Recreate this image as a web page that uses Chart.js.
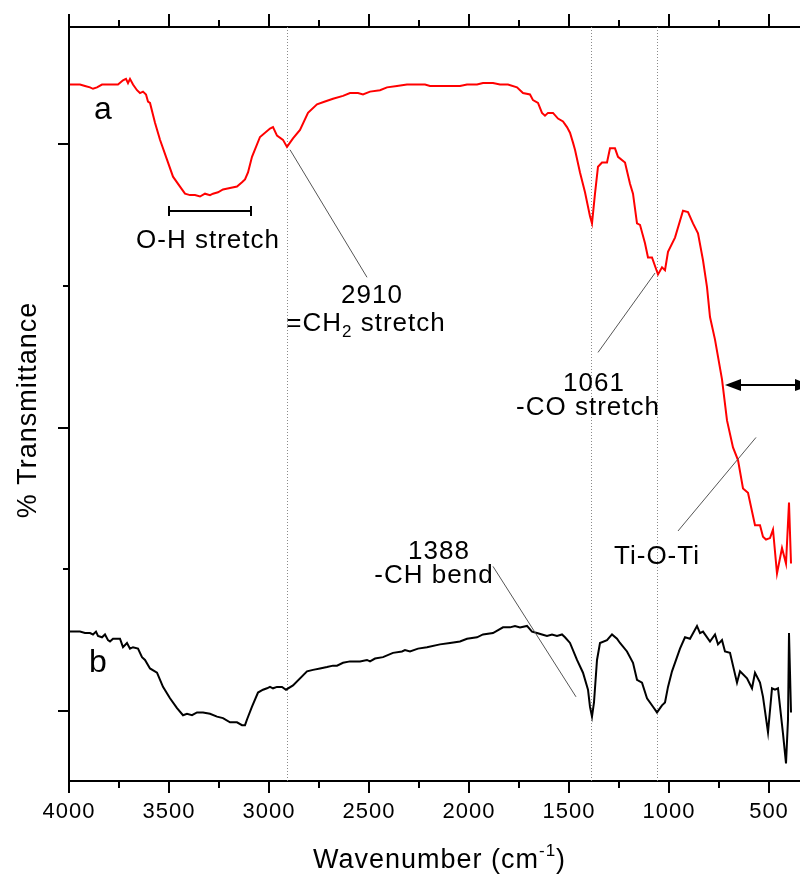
<!DOCTYPE html>
<html>
<head>
<meta charset="utf-8">
<title>FTIR spectra</title>
<script src="https://cdn.jsdelivr.net/npm/chart.js@4/dist/chart.umd.min.js"></script>
<style>
  html, body { margin: 0; padding: 0; background: #fff; }
  #wrap { position: relative; width: 800px; height: 876px; }
</style>
</head>
<body>
<div id="wrap"><canvas id="ftir"></canvas></div>
<script>
// spectrum a (red), wavenumber in cm-1
const waveA = [
  3995,3970,3945,3920,3895,3880,3860,3835,3795,3780,
  3755,3730,3715,3705,3695,3680,3660,3645,3630,3615,
  3605,3595,3570,3545,3510,3480,3445,3420,3395,3370,
  3345,3320,3295,3280,3255,3230,3195,3160,3135,3120,
  3105,3085,3045,2995,2980,2960,2930,2910,2880,2845,
  2805,2760,2720,2680,2630,2595,2555,2530,2495,2445,
  2410,2360,2310,2280,2255,2220,2195,2145,2095,2045,
  2010,1960,1930,1880,1845,1805,1760,1730,1695,1680,
  1655,1635,1620,1605,1580,1555,1530,1510,1495,1480,
  1470,1445,1420,1395,1385,1370,1355,1335,1310,1295,
  1270,1255,1220,1195,1180,1160,1145,1120,1105,1085,
  1055,1035,1020,1005,970,930,905,880,855,830,
  810,795,770,735,710,680,655,630,605,570,
  545,530,515,495,480,460,435,415,400,390];
const transA = [
  4.42,4.42,4.42,4.41,4.40,4.39,4.40,4.42,4.42,4.42,
  4.42,4.45,4.46,4.43,4.46,4.42,4.38,4.36,4.37,4.35,
  4.30,4.29,4.15,4.03,3.89,3.77,3.70,3.65,3.64,3.64,
  3.63,3.65,3.64,3.65,3.66,3.68,3.69,3.70,3.73,3.75,
  3.80,3.91,4.05,4.11,4.12,4.06,4.03,3.98,4.04,4.10,
  4.22,4.28,4.30,4.32,4.34,4.36,4.36,4.35,4.37,4.38,
  4.40,4.41,4.42,4.42,4.42,4.42,4.41,4.41,4.41,4.41,
  4.42,4.42,4.43,4.43,4.42,4.42,4.40,4.36,4.35,4.31,
  4.29,4.22,4.20,4.22,4.22,4.18,4.16,4.12,4.08,4.01,
  3.96,3.80,3.66,3.49,3.44,3.65,3.84,3.87,3.87,3.97,
  3.97,3.91,3.87,3.72,3.65,3.44,3.43,3.30,3.20,3.20,
  3.08,3.13,3.11,3.24,3.34,3.53,3.52,3.44,3.37,3.18,
  2.99,2.78,2.62,2.34,2.05,1.86,1.77,1.57,1.54,1.31,
  1.31,1.23,1.21,1.22,1.28,0.97,1.15,1.04,1.47,1.04];

// spectrum b (black)
const waveB = [
  3995,3970,3945,3920,3895,3880,3865,3855,3835,3820,
  3805,3795,3780,3760,3745,3735,3730,3710,3695,3680,
  3655,3635,3620,3595,3560,3530,3495,3460,3430,3410,
  3385,3360,3345,3330,3295,3260,3230,3195,3160,3135,
  3120,3110,3085,3055,3030,3010,2995,2980,2960,2935,
  2915,2880,2810,2780,2745,2710,2680,2660,2630,2595,
  2545,2510,2495,2470,2430,2380,2335,2320,2295,2255,
  2210,2145,2095,2045,2010,1960,1930,1880,1830,1795,
  1770,1745,1710,1685,1660,1635,1610,1585,1560,1535,
  1520,1495,1460,1430,1405,1395,1385,1375,1360,1345,
  1310,1285,1260,1245,1210,1180,1160,1135,1110,1080,
  1060,1035,1020,1005,985,945,920,895,860,845,
  830,795,770,755,735,720,695,660,645,610,
  585,570,545,530,505,485,470,455,430,415,
  405,400,390];
const transB = [
  0.56,0.56,0.56,0.55,0.55,0.54,0.56,0.53,0.52,0.54,
  0.50,0.49,0.51,0.51,0.51,0.47,0.45,0.48,0.44,0.45,
  0.44,0.38,0.36,0.30,0.27,0.17,0.09,0.02,-0.03,-0.02,
  -0.03,-0.01,-0.01,-0.01,-0.02,-0.04,-0.05,-0.08,-0.08,-0.10,
  -0.10,-0.06,0.03,0.13,0.15,0.16,0.17,0.16,0.17,0.17,
  0.15,0.18,0.28,0.29,0.30,0.31,0.32,0.32,0.34,0.35,
  0.35,0.36,0.35,0.37,0.38,0.41,0.42,0.43,0.42,0.44,
  0.45,0.47,0.48,0.49,0.51,0.52,0.54,0.55,0.59,0.59,
  0.60,0.59,0.60,0.56,0.55,0.54,0.53,0.54,0.53,0.54,
  0.52,0.48,0.36,0.27,0.15,0.03,-0.04,0.06,0.36,0.48,
  0.50,0.54,0.51,0.48,0.42,0.34,0.22,0.20,0.09,0.03,
  -0.01,0.04,0.06,0.17,0.28,0.44,0.52,0.51,0.60,0.55,
  0.56,0.49,0.54,0.47,0.50,0.42,0.41,0.20,0.28,0.23,
  0.16,0.27,0.20,0.10,-0.15,0.16,0.15,0.16,-0.16,-0.37,
  -0.06,0.55,-0.01];

const xTicks = [4000, 3500, 3000, 2500, 2000, 1500, 1000, 500];
const xMinorTicks = [3750, 3250, 2750, 2250, 1750, 1250, 750];
const yTicks = [0, 2, 4];
const yMinorTicks = [1, 3];
const markerWaves = [2910, 1388, 1061];

const FONT = "'Liberation Sans', Arial, sans-serif";

function toPoints(xs, ys) {
  return xs.map((v, i) => ({ x: v, y: ys[i] }));
}

function label(ctx, str, cx, by, size) {
  ctx.font = size + 'px ' + FONT;
  ctx.textAlign = 'center';
  ctx.textBaseline = 'alphabetic';
  ctx.fillText(str, cx, by);
}

// text made of pieces [text, size, dy] (for sub/superscripts)
function richLabel(ctx, pieces, cx, by) {
  let total = 0;
  const widths = pieces.map(([t, s]) => {
    ctx.font = s + 'px ' + FONT;
    const w = ctx.measureText(t).width;
    total += w;
    return w;
  });
  let xx = cx - total / 2;
  ctx.textAlign = 'left';
  ctx.textBaseline = 'alphabetic';
  pieces.forEach(([t, s, dy], i) => {
    ctx.font = s + 'px ' + FONT;
    ctx.fillText(t, xx, by + dy);
    xx += widths[i];
  });
}

function seg(ctx, x1, y1, x2, y2) {
  ctx.beginPath();
  ctx.moveTo(x1, y1);
  ctx.lineTo(x2, y2);
  ctx.stroke();
}

const decor = {
  id: 'decor',
  beforeDraw(chart) {
    // slightly wider lettering, like the original export
    chart.ctx.letterSpacing = '1px';
  },
  beforeDatasetsDraw(chart) {
    const { ctx, chartArea: a, scales: { x } } = chart;
    ctx.save();
    ctx.strokeStyle = '#8a8a8a';
    ctx.lineWidth = 1;
    ctx.setLineDash([1, 2]);
    markerWaves.forEach(w => {
      const px = Math.round(x.getPixelForValue(w)) + 0.5;
      seg(ctx, px, a.top, px, a.bottom);
    });
    ctx.restore();
  },
  afterDraw(chart) {
    const { ctx, chartArea: a, scales: { x, y } } = chart;
    const X = v => x.getPixelForValue(v);
    const Y = v => y.getPixelForValue(v);
    ctx.save();

    // minor ticks
    ctx.strokeStyle = '#000';
    ctx.lineWidth = 2;
    xMinorTicks.forEach(v => {
      const px = Math.round(X(v));
      seg(ctx, px, a.bottom, px, a.bottom + 7);
      seg(ctx, px, a.top, px, a.top - 7);
    });
    yMinorTicks.forEach(v => {
      const py = Math.round(Y(v));
      seg(ctx, a.left, py, a.left - 6, py);
    });

    // leader lines
    ctx.strokeStyle = '#555';
    ctx.lineWidth = 1;
    seg(ctx, X(2895), Y(3.96), X(2510), Y(3.06));
    seg(ctx, X(1355), Y(2.53), X(1070), Y(3.09));
    seg(ctx, X(1880), Y(1.02), X(1465), Y(0.10));
    seg(ctx, X(955), Y(1.27), X(565), Y(1.93));

    // O-H range bar
    ctx.strokeStyle = '#000';
    ctx.lineWidth = 2;
    const by = Math.round(Y(3.53));
    seg(ctx, X(3500), by, X(3090), by);
    seg(ctx, X(3500), by - 5, X(3500), by + 5);
    seg(ctx, X(3090), by - 5, X(3090), by + 5);

    // double arrow (right head runs off the frame)
    const ay = Math.round(Y(2.30));
    const ax1 = X(720), ax2 = X(290);
    seg(ctx, ax1 + 10, ay, ax2 - 10, ay);
    ctx.fillStyle = '#000';
    ctx.beginPath();
    ctx.moveTo(ax1, ay); ctx.lineTo(ax1 + 16, ay - 6); ctx.lineTo(ax1 + 16, ay + 6); ctx.closePath(); ctx.fill();
    ctx.beginPath();
    ctx.moveTo(ax2, ay); ctx.lineTo(ax2 - 16, ay - 6); ctx.lineTo(ax2 - 16, ay + 6); ctx.closePath(); ctx.fill();

    // text
    ctx.fillStyle = '#000';
    ctx.letterSpacing = '0px';
    label(ctx, 'a', X(3830), Y(4.18), 32);
    label(ctx, 'b', X(3855), Y(0.275), 32);
    ctx.letterSpacing = '1px';
    label(ctx, 'O-H stretch', X(3305), Y(3.27), 26);
    label(ctx, '2910', X(2485), Y(2.88), 26);
    richLabel(ctx, [['=CH', 26, 0], ['2', 17, 6], [' stretch', 26, 0]], X(2515), Y(2.68));
    label(ctx, '1061', X(1375), Y(2.26), 26);
    label(ctx, '-CO stretch', X(1405), Y(2.09), 26);
    label(ctx, '1388', X(2150), Y(1.07), 26);
    label(ctx, '-CH bend', X(2175), Y(0.90), 26);
    label(ctx, 'Ti-O-Ti', X(1060), Y(1.04), 26);

    // axis titles
    richLabel(ctx, [['Wavenumber (cm', 27, 0], ['-1', 17, -12], [')', 27, 0]], (a.left + a.right) / 2 + 5, a.bottom + 87);
    ctx.translate(a.left - 33, (a.top + a.bottom) / 2 + 6);
    ctx.rotate(-Math.PI / 2);
    label(ctx, '% Transmittance', 0, 0, 27);
    ctx.restore();
  }
};

const setXTicks = scale => { scale.ticks = xTicks.map(v => ({ value: v })); };

new Chart(document.getElementById('ftir'), {
  type: 'line',
  data: {
    datasets: [
      { label: 'a', data: toPoints(waveA, transA), borderColor: '#ff0000', borderWidth: 2, pointRadius: 0, tension: 0, fill: false, xAxisID: 'x', yAxisID: 'y' },
      { label: 'b', data: toPoints(waveB, transB), borderColor: '#000000', borderWidth: 2, pointRadius: 0, tension: 0, fill: false, xAxisID: 'x', yAxisID: 'y' },
    ],
  },
  options: {
    responsive: true,
    maintainAspectRatio: false,
    animation: false,
    events: [],
    layout: { padding: 0 },
    plugins: { legend: { display: false }, tooltip: { enabled: false } },
    scales: {
      x: {
        type: 'linear', position: 'bottom', reverse: true, min: 345, max: 4000,
        afterBuildTicks: setXTicks,
        afterFit: s => { s.height = 95; },
        grid: { drawOnChartArea: false, drawTicks: true, tickLength: 12, color: '#000', lineWidth: 2 },
        border: { display: true, color: '#000', width: 2 },
        ticks: { color: '#000', font: { family: FONT, size: 22 }, padding: 6, maxRotation: 0, autoSkip: false, callback: v => String(v) },
      },
      xTop: {
        type: 'linear', position: 'top', reverse: true, min: 345, max: 4000,
        afterBuildTicks: setXTicks,
        afterFit: s => { s.height = 27; },
        grid: { drawOnChartArea: false, drawTicks: true, tickLength: 13, color: '#000', lineWidth: 2 },
        border: { display: true, color: '#000', width: 2 },
        ticks: { display: false },
      },
      y: {
        type: 'linear', position: 'left', min: -0.494, max: 4.826,
        afterBuildTicks: s => { s.ticks = yTicks.map(v => ({ value: v })); },
        afterFit: s => { s.width = 69; },
        grid: { drawOnChartArea: false, drawTicks: true, tickLength: 11, color: '#000', lineWidth: 2 },
        border: { display: true, color: '#000', width: 2 },
        ticks: { display: false },
      },
    },
  },
  plugins: [decor],
});
</script>
</body>
</html>
